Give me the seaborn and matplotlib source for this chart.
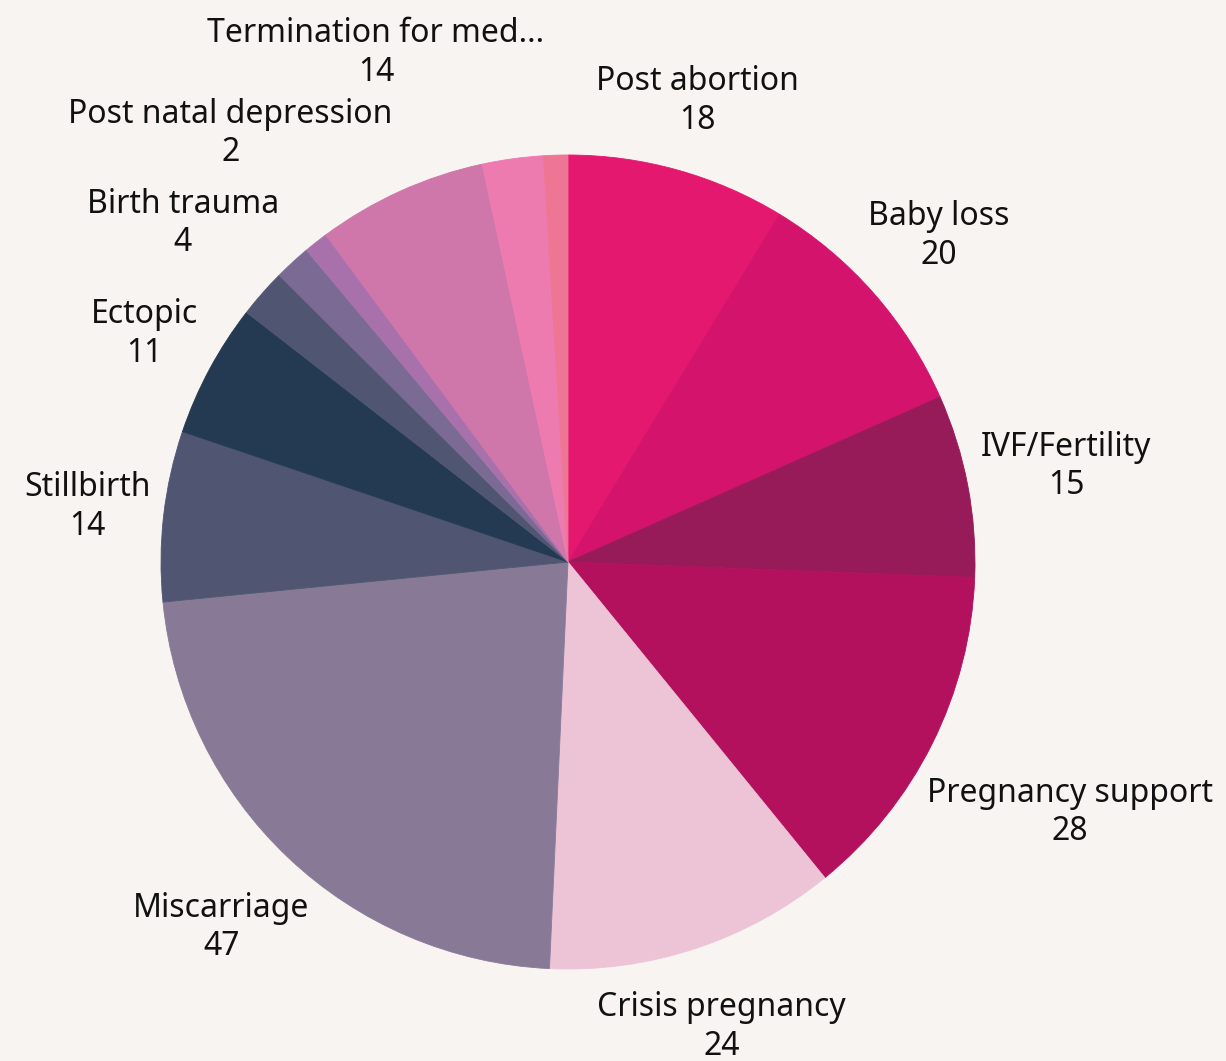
import numpy as np
import seaborn as sns
import matplotlib
matplotlib.use("Agg")
import matplotlib.pyplot as plt

# slices, clockwise from 12 o'clock
names = ["Post abortion", "Baby loss", "IVF/Fertility", "Pregnancy support",
         "Crisis pregnancy", "Miscarriage", "Stillbirth", "Ectopic",
         "Birth trauma", "", "Post natal depression", "Termination for med...",
         "", ""]
values = [18, 20, 15, 28, 24, 47, 14, 11, 4, 3, 2, 14, 5, 2]
colors = ["#E5186F", "#D4136C", "#961B58", "#B3105E", "#ECC4D6", "#887A97",
          "#505672", "#243952", "#505672", "#7A6A94", "#A871AB", "#CF76AA",
          "#EE7BAF", "#EE7594"]

sns.set_theme(style="white")
plt.rcParams["font.family"] = ["Noto Sans", "DejaVu Sans"]

bg = "#F8F4F1"
W, H = 1226, 1061
cx, cy, R = 568, 562, 407

fig = plt.figure(figsize=(W / 100, H / 100), dpi=100, facecolor=bg)
ax = fig.add_axes([0, 0, 1, 1])
ax.set_facecolor(bg)

wedges, _ = ax.pie(values, colors=colors, startangle=90, counterclock=False,
                   radius=R, center=(0, 0),
                   wedgeprops=dict(linewidth=0.6, antialiased=True))
for w, c in zip(wedges, colors):
    w.set_edgecolor(c)

ax.set_xlim(-cx, W - cx)
ax.set_ylim(-(H - cy), cy)
ax.set_aspect("equal")
ax.axis("off")

# crowded label at the top gets pushed up and right
nudge = {"Termination for med...": (22, 36)}

fig.canvas.draw()
renderer = fig.canvas.get_renderer()
total = sum(values)
cum = np.cumsum([0] + values)
for i, (n, v) in enumerate(zip(names, values)):
    if not n:
        continue
    mid = np.deg2rad((cum[i] + v / 2) / total * 360)
    t = ax.text(0, 0, f"{n}\n{v}", ha="center", va="center", fontsize=23,
                color="#111111", linespacing=1.22)
    bb = t.get_window_extent(renderer)
    ext = abs(np.sin(mid)) * bb.width / 2 + abs(np.cos(mid)) * bb.height / 2
    d = R + 10 + ext
    dx, dy = nudge.get(n, (0, 0))
    t.set_position((d * np.sin(mid) + dx, d * np.cos(mid) + dy))

fig.savefig("out.png", dpi=100, facecolor=bg)
